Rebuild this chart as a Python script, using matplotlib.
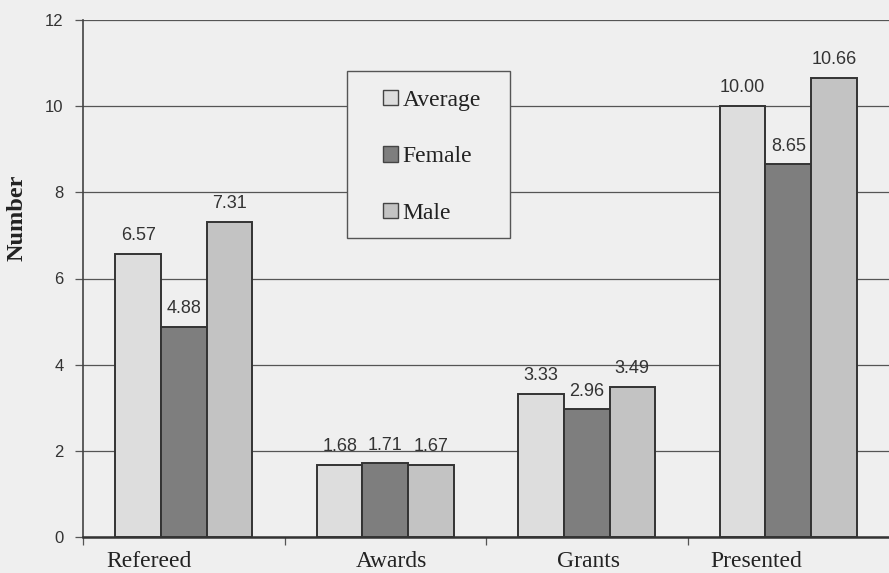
import matplotlib
matplotlib.use("Agg")
import matplotlib.pyplot as plt
import numpy as np
from matplotlib.patches import Patch, Rectangle

categories = ["Refereed", "Awards", "Grants", "Presented"]
series_names = ["Average", "Female", "Male"]
average = [6.57, 1.68, 3.33, 10.00]
female = [4.88, 1.71, 2.96, 8.65]
male = [7.31, 1.67, 3.49, 10.66]
y_ticks = [0, 2, 4, 6, 8, 10, 12]

colors = ["#dddddd", "#7e7e7e", "#c3c3c3"]
bg = "#efefef"
edge = "#333333"

fig = plt.figure(figsize=(8.89, 5.73), dpi=100, facecolor=bg)
ax = fig.add_axes([83/889, 1-537/573, 1-83/889, (537-20)/573])
ax.set_facecolor(bg)

x = np.arange(len(categories))
w = 0.226
series = [average, female, male]
for i, (vals, c) in enumerate(zip(series, colors)):
    pos = x + (i - 1) * w
    bars = ax.bar(pos, vals, width=w, color=c, edgecolor=edge, linewidth=1.4, zorder=3)
    for b, v in zip(bars, vals):
        ax.annotate(f"{v:.2f}", (b.get_x() + b.get_width()/2, v), xytext=(0, 7),
                    textcoords="offset points", ha="center", va="bottom",
                    fontsize=13, family="Liberation Sans", color="#333333", zorder=4)

ax.set_ylim(0, 12)
ax.set_xlim(-0.5, 3.5)
ax.set_yticks(y_ticks)
ax.set_yticklabels([str(t) for t in y_ticks], family="Liberation Sans", fontsize=12, color="#333333")
ax.yaxis.grid(True, color="#555555", linewidth=0.9, zorder=0)
ax.set_axisbelow(True)
ax.tick_params(axis="y", length=6, width=0.9, color="#555555", pad=8)

# x ticks at category boundaries, labels as text
ax.set_xticks(np.arange(-0.5, 3.5, 1.0))
ax.set_xticklabels([])
ax.tick_params(axis="x", length=6, width=0.9, color="#555555")
label_shift = [-0.17, 0.03, 0.01, -0.16]
for xi, lab, s in zip(x, categories, label_shift):
    ax.text(xi + s, -0.028, lab, transform=ax.get_xaxis_transform(), ha="center", va="top",
            fontsize=17, family="Liberation Serif", color="#222222")

for sp in ["top", "right"]:
    ax.spines[sp].set_visible(False)
ax.spines["left"].set_color("#444444")
ax.spines["left"].set_linewidth(1.2)
ax.spines["bottom"].set_color("#333333")
ax.spines["bottom"].set_linewidth(1.8)

fig.text(17/889, 1-218/573, "Number", rotation=90, ha="center", va="center",
         fontsize=17.5, fontweight="bold", family="Liberation Serif", color="#222222")

# legend box
x0, x1 = (347-83)/806, (510-83)/806
y0, y1 = (537-238)/517, (537-71)/517
ax.add_patch(Rectangle((x0, y0), x1 - x0, y1 - y0, transform=ax.transAxes,
                       facecolor=bg, edgecolor="#555555", linewidth=1.0, zorder=5))

handles = [Patch(facecolor=c, edgecolor="#444444", linewidth=1.0) for c in colors]
leg = ax.legend(handles, series_names, loc="upper left",
                bbox_to_anchor=((383-83)/806, (537-90)/517), frameon=False,
                prop={"family": "Liberation Serif", "size": 17},
                handlelength=0.62, handleheight=0.62, handletextpad=0.2,
                labelspacing=1.5, borderpad=0, borderaxespad=0)
leg.set_zorder(6)
for t in leg.get_texts():
    t.set_color("#222222")

fig.savefig("out.png", dpi=100, facecolor=bg)
